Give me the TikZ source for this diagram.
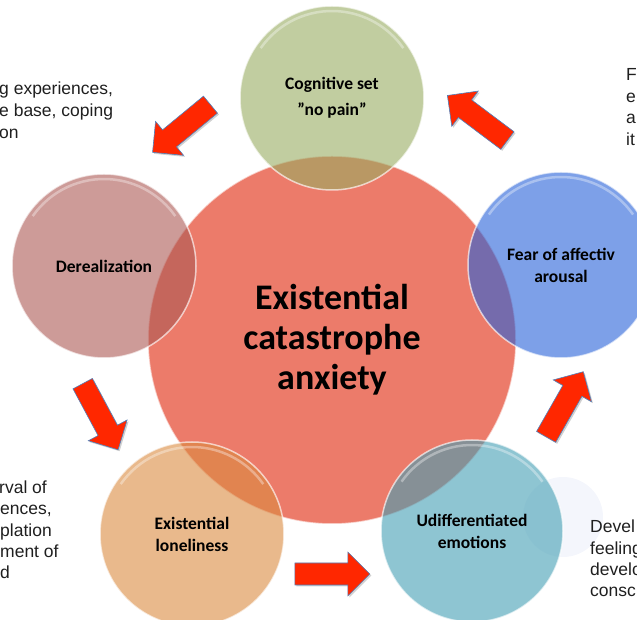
\documentclass[tikz,border=0pt]{standalone}
\usepackage{fontspec}
\setmainfont{Carlito}
\newfontfamily\notefont{Liberation Sans}

\definecolor{corered}{RGB}{236,123,106}
\definecolor{setgreen}{RGB}{152,172,97}
\definecolor{derose}{RGB}{172,88,83}
\definecolor{fearblue}{RGB}{38,97,217}
\definecolor{emoteal}{RGB}{67,158,180}
\definecolor{loneorange}{RGB}{218,138,63}
\definecolor{paleblue}{RGB}{244,246,252}
\definecolor{arrowred}{RGB}{255,39,0}
\definecolor{arrowedge}{RGB}{79,129,189}

\tikzset{
  bubble/.style={circle, fill=#1, fill opacity=0.6, draw=white, draw opacity=0.65,
    line width=1.5pt, inner sep=0pt, text opacity=1, text=black, align=center,
    font=\fontsize{17.5}{22}\selectfont\bfseries},
  core/.style={circle, fill=corered, draw=white, draw opacity=0.6, line width=1.5pt,
    inner sep=0pt, minimum size=368pt, text=black, align=center,
    font=\fontsize{36}{40}\selectfont\bfseries},
  note/.style={inner sep=0pt, anchor=base west, text=black!88,
    font=\notefont\fontsize{17.5}{21.5}\selectfont},
  arrowbody/.style={fill=arrowred, draw=arrowedge, line width=0.6pt, line join=miter},
  arrowshade/.style={fill=black, opacity=0.18},
}

% block arrow of length 75 centred on (#1,#2), pointing at angle #3
\newcommand\cyclearrow[3]{%
  \begin{scope}[shift={({#1+1.5},{#2-1.5})}, rotate=#3]
    \fill[arrowshade] (-37.5,-11) -- (15.5,-11) -- (15.5,-22) -- (37.5,0)
      -- (15.5,22) -- (15.5,11) -- (-37.5,11) -- cycle;
  \end{scope}
  \begin{scope}[shift={(#1,#2)}, rotate=#3]
    \filldraw[arrowbody] (-37.5,-11) -- (15.5,-11) -- (15.5,-22) -- (37.5,0)
      -- (15.5,22) -- (15.5,11) -- (-37.5,11) -- cycle;
  \end{scope}}

\begin{document}
\begin{tikzpicture}[x=1pt, y=1pt]
  \useasboundingbox (0,0) rectangle (637,620);
  \clip (0,0) rectangle (637,620);

  % faint disc behind the emotions bubble
  \fill[paleblue] (563,103) circle (40);

  % central circle
  \node[core] (core) at (332,280) {Existential\\catastrophe\\anxiety};

  % surrounding bubbles
  \node[bubble=setgreen, minimum size=184pt] (cog) at (332,522)
    {Cognitive set\\[4pt]”no pain”};
  \node[bubble=fearblue, minimum size=186pt] (fear) at (561,355)
    {Fear of affectiv\\arousal};
  \node[bubble=emoteal, minimum size=182pt] (emo) at (472,89)
    {Udifferentiated\\emotions};
  \node[bubble=loneorange, minimum size=184pt] (lone) at (192,86)
    {Existential\\loneliness};
  \node[bubble=derose, minimum size=184pt] (dere) at (104,354)
    {Derealization};

  % soft highlights along the top of each bubble
  \foreach \c/\r in {cog/92, fear/93, emo/91, lone/92, dere/92}{
    \draw[white, opacity=0.35, line width=2.5pt]
      ([shift={(145:\r-5)}]\c.center) arc (145:35:\r-5);
  }

  % arrows of the cycle
  \cyclearrow{181.5}{491.5}{219.5}
  \cyclearrow{477.4}{502}{143.1}
  \cyclearrow{564.7}{215.7}{60.3}
  \cyclearrow{332.3}{46}{0}
  \cyclearrow{100.4}{203.3}{-61.8}

  % side notes
  \node[note] (tl1) at (-1,525) {g experiences,};
  \node[note] (tl2) at (-1,503) {e base, coping};
  \node[note] (tl3) at (-1,481) {on};

  \node[note] (tr1) at (626,539) {F};
  \node[note] (tr2) at (626,517) {e};
  \node[note] (tr3) at (626,496) {a};
  \node[note] (tr4) at (626,474) {it};

  \node[note] (bl1) at (-1,126) {rval of};
  \node[note] (bl2) at (0,105) {ences,};
  \node[note] (bl3) at (0,83) {plation};
  \node[note] (bl4) at (0,62) {ment of};
  \node[note] (bl5) at (0,41) {d};

  \node[note] (br1) at (590,87) {Devel};
  \node[note] (br2) at (590,65) {feeling};
  \node[note] (br3) at (590,44) {develo};
  \node[note] (br4) at (590,23) {consc};
\end{tikzpicture}
\end{document}
